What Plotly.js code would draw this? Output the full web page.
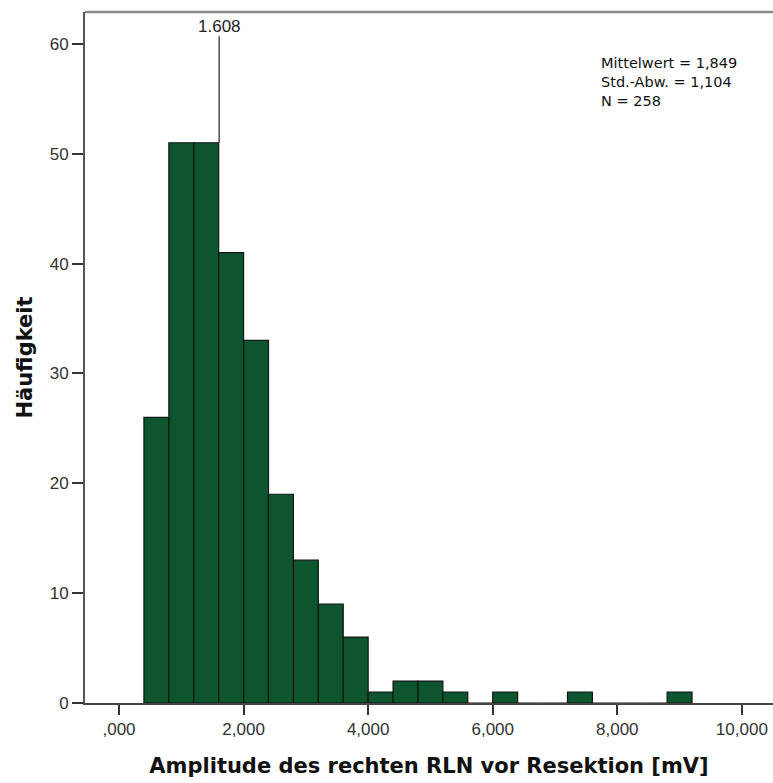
<!DOCTYPE html>
<html>
<head>
<meta charset="utf-8">
<script src="https://cdn.plot.ly/plotly-3.0.1.min.js"></script>
<style>html,body{margin:0;padding:0;background:#fff;}#chart{width:773px;height:783px;}</style>
</head>
<body>
<div id="chart"></div>
<script>
// Histogram bins (left edges, mV) and counts
const binStarts = [0.4,0.8,1.2,1.6,2.0,2.4,2.8,3.2,3.6,4.0,4.4,4.8,5.2,5.6,6.0,6.4,6.8,7.2,7.6,8.0,8.4,8.8];
const counts    = [26,51,51,41,33,19,13,9,6,1,2,2,1,0,1,0,0,1,0,0,0,1];
const binWidth = 0.4;
const medianValue = 1.608;
const medianLabel = "1.608";
const xTickVals = [0,2,4,6,8,10];
const xTickText = [",000","2,000","4,000","6,000","8,000","10,000"];
const yTickVals = [0,10,20,30,40,50,60];
const statsLines = ["Mittelwert = 1,849","Std.-Abw. = 1,104","N = 258"];

const centers = binStarts.map(s => s + binWidth/2);

const trace = {
  type: 'bar',
  x: centers,
  y: counts,
  width: binWidth,
  marker: {color: '#0c552e', line: {color: '#151515', width: 1.2}},
  hoverinfo: 'x+y'
};

const tickFont = {family: 'Liberation Sans, Arial, sans-serif', size: 17, color: '#333'};
const titleFont = {family: 'DejaVu Sans, Verdana, sans-serif', size: 21, color: '#111', weight: 'bold'};

const layout = {
  width: 773, height: 783,
  margin: {l: 85, r: 0, t: 12, b: 80},
  paper_bgcolor: '#fff', plot_bgcolor: '#fff',
  showlegend: false,
  font: {family: 'Liberation Sans, Arial, sans-serif', size: 17, color: '#222'},
  xaxis: {
    range: [-0.546, 10.5],
    tickvals: xTickVals, ticktext: xTickText,
    ticks: 'outside', ticklen: 10, tickwidth: 2, tickcolor: '#333',
    showline: true, linecolor: '#444', linewidth: 2,
    showgrid: false, zeroline: false,
    tickfont: tickFont,
    title: {text: 'Amplitude des rechten RLN vor Resektion [mV]', standoff: 20, font: titleFont}
  },
  yaxis: {
    range: [0, 62.9],
    tickvals: yTickVals,
    ticks: 'outside', ticklen: 11, tickwidth: 2, tickcolor: '#333',
    showline: true, linecolor: '#555', linewidth: 2,
    showgrid: false, zeroline: false,
    tickfont: tickFont,
    title: {text: 'Häufigkeit', standoff: 11, font: titleFont}
  },
  shapes: [
    {type: 'line', xref: 'paper', yref: 'paper', x0: 0, x1: 1, y0: 1, y1: 1,
     line: {color: '#8a8a8a', width: 2.5}},
    {type: 'line', xref: 'x', yref: 'y',
     x0: medianValue, x1: medianValue, y0: counts[2], y1: 60.7,
     line: {color: '#333', width: 1.3}}
  ],
  annotations: [
    {xref: 'x', yref: 'y', x: medianValue, y: 61.6, text: medianLabel, showarrow: false,
     font: {family: 'Liberation Sans, Arial, sans-serif', size: 17, color: '#222'}, xanchor: 'center', yanchor: 'middle'},
    {xref: 'paper', yref: 'paper', x: 0.747, y: 0.8987, xanchor: 'left', yanchor: 'middle',
     text: statsLines.join('<br>'), showarrow: false, align: 'left',
     font: {family: 'DejaVu Sans, Verdana, sans-serif', size: 14.5, color: '#111'}}
  ]
};

Plotly.newPlot('chart', [trace], layout, {displayModeBar: false, staticPlot: true});
</script>
</body>
</html>
